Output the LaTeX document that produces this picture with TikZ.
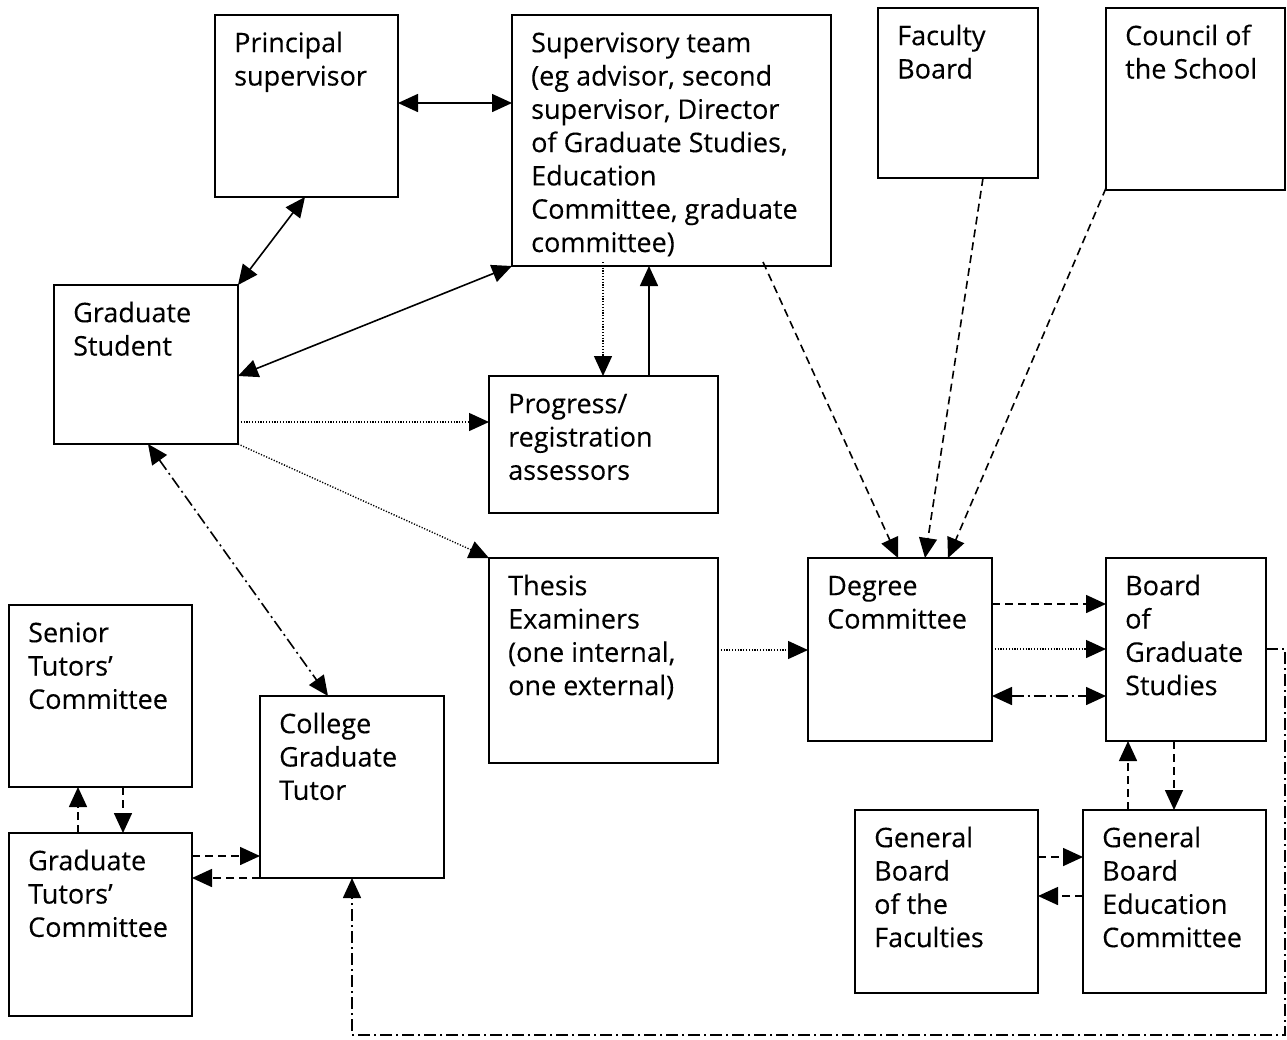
\documentclass[tikz,border=0pt]{standalone}
\usepackage{fontspec}
\setmainfont{Open Sans}
\newfontfamily\lblfont[FakeBold=0.2]{Open Sans}
\usetikzlibrary{arrows.meta}
\tikzset{
  box/.style={draw=black, line width=1.8pt, inner sep=0pt, outer sep=0pt, anchor=north west},
  txt/.style={inner sep=0pt, anchor=north west, align=left, font=\lblfont\fontsize{27}{33.3}\selectfont},
  conn/.style={line width=1.6pt, draw=black, >={Triangle[length=20pt,width=18pt]}},
  sol/.style={conn},
  dotl/.style={conn, line width=1.4pt, dash pattern=on 1.2pt off 1.6pt},
  dsh/.style={conn, dash pattern=on 8pt off 5pt},
  ddot/.style={conn, dash pattern=on 12pt off 4pt on 2pt off 4pt},
}
\newcommand{\bx}[6]{%
  \node[box, minimum width=#4pt, minimum height=#5pt] (#1) at (#2,#3) {};
  \node[txt] (#1-t) at ([xshift=19pt,yshift=-13.7pt]#1.north west) {\strut #6};
}
\begin{document}
\begin{tikzpicture}[x=1pt,y=-1pt]
\useasboundingbox (0,0) rectangle (1287,1039);
\bx{ps}{215}{15}{183}{182}{Principal\\supervisor}
\bx{st}{512}{15}{319}{251}{Supervisory team\\(eg advisor, second\\supervisor, Director\\of Graduate Studies,\\Education\\Committee, graduate\\committee)}
\bx{fb}{878}{8}{160}{170}{Faculty\\Board}
\bx{cs}{1106}{8}{179}{182}{Council of\\the School}
\bx{gs}{54}{285}{184}{159}{Graduate\\Student}
\bx{pr}{489}{376}{229}{137}{Progress/\\registration\\assessors}
\bx{te}{489}{558}{229}{205}{Thesis\\Examiners\\(one internal,\\one external)}
\bx{dc}{808}{558}{184}{183}{Degree\\Committee}
\bx{bgs}{1106}{558}{160}{183}{Board\\of\\Graduate\\Studies}
\bx{gbf}{855}{810}{183}{183}{General\\Board\\of the\\Faculties}
\bx{gbec}{1083}{810}{183}{183}{General\\Board\\Education\\Committee}
\bx{stc}{9}{605}{183}{182}{Senior\\Tutors’\\Committee}
\bx{gtc}{9}{833}{183}{183}{Graduate\\Tutors’\\Committee}
\bx{cgt}{260}{696}{184}{182}{College\\Graduate\\Tutor}

% solid
\draw[sol,<->] ([yshift=-88pt]ps.north east) -- ([yshift=-88pt]st.north west);
\draw[sol,<->] ([xshift=90pt]ps.south west) -- (gs.north east);
\draw[sol,<->] ([yshift=-91pt]gs.north east) -- (st.south west);
\draw[sol,->] ([xshift=160pt]pr.north west) -- ([xshift=137pt]st.south west);
% dotted
\draw[dotl,->] ([yshift=-137pt]gs.north east) -- ([yshift=-46pt]pr.north west);
\draw[dotl,->] (gs.south east) -- (te.north west);
\draw[dotl,->] ([xshift=91pt,yshift=4pt]st.south west) -- ([xshift=114pt]pr.north west);
\draw[dotl,->] ([yshift=-92pt]te.north east) -- ([yshift=-92pt]dc.north west);
\draw[dotl,->] ([yshift=-91pt]dc.north east) -- ([yshift=-91pt]bgs.north west);
% dashed
\draw[dsh,->] ([xshift=251pt,yshift=4pt]st.south west) -- ([xshift=90pt]dc.north west);
\draw[dsh,->] ([xshift=105pt]fb.south west) -- ([xshift=117pt]dc.north west);
\draw[dsh,->] ([yshift=2pt]cs.south west) -- ([xshift=140pt]dc.north west);
\draw[dsh,->] ([yshift=-46pt]dc.north east) -- ([yshift=-46pt]bgs.north west);
\draw[dsh,->] ([xshift=45pt]gbec.north west) -- ([xshift=22pt]bgs.south west);
\draw[dsh,->] ([xshift=68pt]bgs.south west) -- ([xshift=91pt]gbec.north west);
\draw[dsh,->] ([yshift=-47pt]gbf.north east) -- ([yshift=-47pt]gbec.north west);
\draw[dsh,->] ([yshift=-86pt]gbec.north west) -- ([yshift=-86pt]gbf.north east);
\draw[dsh,->] ([xshift=69pt]gtc.north west) -- ([xshift=69pt]stc.south west);
\draw[dsh,->] ([xshift=114pt]stc.south west) -- ([xshift=114pt]gtc.north west);
\draw[dsh,->] ([yshift=-23pt]gtc.north east) -- ([yshift=-160pt]cgt.north west);
\draw[dsh,->] (cgt.south west) -- ([yshift=-45pt]gtc.north east);
% dash-dot
\draw[ddot,<->] ([xshift=94pt]gs.south west) -- ([xshift=68pt]cgt.north west);
\draw[ddot,<->] ([yshift=-138pt]dc.north east) -- ([yshift=-138pt]bgs.north west);
\coordinate (lr) at (1285,1035);
\coordinate (ll) at (352,1035);
\draw[ddot,->] ([yshift=-91pt]bgs.north east) -| (lr) -- (ll) -- ([xshift=92pt]cgt.south west);
\end{tikzpicture}
\end{document}
